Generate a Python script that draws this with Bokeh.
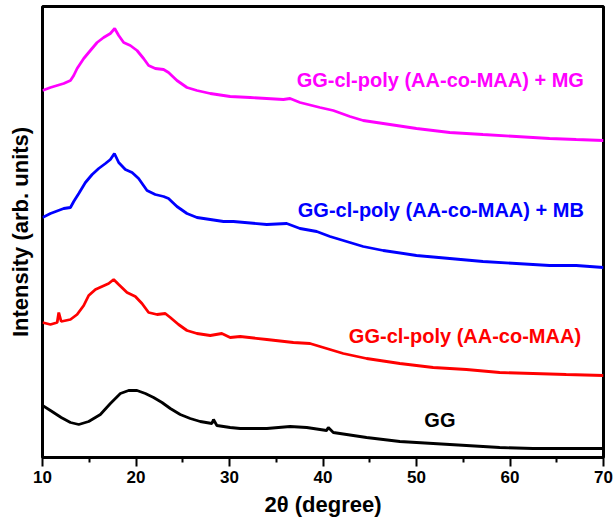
from bokeh.plotting import figure
from bokeh.models import Range1d, Label, FixedTicker
from bokeh.embed import file_html
from bokeh.resources import INLINE

# 2theta (degree) and intensity (arb. units, curves stacked with offsets as in the figure)
gg_x = [10.0, 10.85, 12.0, 12.99, 13.88, 14.94, 16.19, 17.26, 18.33, 19.21, 20.11, 21.0, 21.88,
        22.78, 23.67, 24.73, 25.80, 26.87, 28.12, 28.29, 28.65, 30.07, 31.14, 33.99, 36.48,
        38.26, 40.39, 40.57, 41.10, 44.66, 48.22, 51.78, 55.34, 58.90, 62.45, 66.01, 70.0]
gg_y = [52, 47, 40, 35, 33, 36, 43, 54, 64, 67, 67, 64, 60,
        55, 49, 43, 39, 36, 34, 38, 32, 30, 29, 29, 31,
        30, 27, 30, 25, 20, 16, 14, 12, 10, 9, 9, 9]

cp_x = [10.0, 10.85, 11.57, 11.74, 12.0, 12.99, 13.70, 14.41, 14.94, 15.66, 16.37, 17.08, 17.61,
        18.15, 19.04, 19.93, 20.64, 21.35, 22.25, 23.13, 23.67, 24.55, 25.45, 26.52, 27.94,
        29.18, 30.07, 31.14, 33.99, 36.83, 38.61, 40.39, 42.17, 44.66, 48.22, 51.78, 55.34,
        58.90, 62.45, 66.01, 70.0]
cp_y = [135, 133, 135, 145, 136, 138, 143, 152, 162, 168, 171, 174, 178,
        173, 165, 161, 154, 145, 143, 144, 140, 133, 127, 124, 122,
        124, 120, 121, 118, 115, 114, 109, 104, 99, 94, 90, 88,
        85, 84, 83, 82]

mb_x = [10.0, 10.85, 12.27, 12.99, 13.34, 13.88, 14.59, 15.31, 16.01, 16.73, 17.26, 17.69, 18.15,
        18.86, 19.58, 20.28, 21.18, 22.06, 22.95, 23.48, 24.38, 25.45, 26.52, 27.94, 29.36,
        30.42, 33.99, 36.12, 37.54, 39.33, 40.75, 42.88, 44.30, 46.44, 50.0, 53.56, 57.11,
        60.68, 64.23, 67.08, 70.0]
mb_y = [240, 244, 249, 250, 256, 264, 275, 283, 289, 294, 298, 304, 295,
        288, 285, 279, 267, 263, 261, 259, 251, 244, 240, 238, 236,
        236, 233, 234, 229, 226, 221, 215, 211, 207, 202, 199, 196,
        194, 192, 192, 190]

mg_x = [10.0, 10.85, 12.27, 12.99, 13.34, 13.70, 14.41, 15.12, 15.84, 16.54, 17.26, 17.72, 18.15,
        18.68, 19.39, 20.11, 20.81, 21.35, 22.06, 22.95, 23.48, 24.38, 25.45, 26.52, 27.94,
        29.36, 30.07, 32.21, 35.76, 36.48, 37.54, 39.68, 41.10, 42.88, 44.30, 46.44, 50.0,
        53.56, 57.11, 60.68, 64.23, 67.08, 70.0]
mg_y = [367, 370, 374, 377, 382, 389, 399, 407, 415, 420, 424, 429, 422,
        415, 412, 407, 399, 392, 389, 388, 385, 377, 370, 367, 364,
        362, 361, 360, 358, 359, 355, 350, 347, 341, 337, 334, 329,
        325, 323, 321, 319, 318, 317]

x_ticks = [10, 20, 30, 40, 50, 60, 70]
x_minor_ticks = [15, 25, 35, 45, 55, 65]

series_names = ["GG", "GG-cl-poly (AA-co-MAA)", "GG-cl-poly (AA-co-MAA) + MB",
                "GG-cl-poly (AA-co-MAA) + MG"]
series_colors = ["#000000", "#FF0000", "#0000FF", "#FF00FF"]

FONT = "Liberation Sans"

p = figure(frame_width=561, frame_height=451, output_backend="svg", toolbar_location=None,
           x_range=Range1d(10, 70), y_range=Range1d(0, 451),
           min_border_top=6, min_border_right=10, min_border_left=42, min_border_bottom=0)
p.background_fill_color = "white"
p.border_fill_color = "white"
p.outline_line_color = "black"
p.outline_line_width = 3
p.xgrid.visible = False
p.ygrid.visible = False

for xs, ys, c in zip([gg_x, cp_x, mb_x, mg_x], [gg_y, cp_y, mb_y, mg_y], series_colors):
    p.line(xs, ys, line_color=c, line_width=2.8)

# x axis
xa = p.xaxis[0]
xa.ticker = FixedTicker(ticks=x_ticks, minor_ticks=x_minor_ticks)
xa.axis_line_color = None
xa.major_tick_in = 0
xa.major_tick_out = 9
xa.minor_tick_in = 0
xa.minor_tick_out = 5
xa.major_tick_line_width = 2
xa.minor_tick_line_width = 2
xa.major_tick_line_color = "black"
xa.minor_tick_line_color = "black"
xa.major_label_text_font = FONT
xa.major_label_text_font_style = "bold"
xa.major_label_text_font_size = "17px"
xa.major_label_text_color = "black"
xa.major_label_standoff = 4
xa.axis_label = "2θ (degree)"
xa.axis_label_text_font = FONT
xa.axis_label_text_font_style = "bold"
xa.axis_label_text_font_size = "22px"
xa.axis_label_text_color = "black"
xa.axis_label_standoff = 6

# y axis: label only, no ticks
ya = p.yaxis[0]
ya.ticker = FixedTicker(ticks=[])
ya.axis_line_color = None
ya.major_tick_line_color = None
ya.minor_tick_line_color = None
ya.major_tick_out = 0
ya.major_tick_in = 0
ya.major_label_standoff = 0
ya.axis_label = "Intensity (arb. units)"
ya.axis_label_text_font = FONT
ya.axis_label_text_font_style = "bold"
ya.axis_label_text_font_size = "22px"
ya.axis_label_text_color = "black"
ya.axis_label_standoff = 10

label_pos = [(52.5, 37.5, "center"), (67.6, 121.5, "right"), (67.9, 247.5, "right"),
             (67.9, 377.5, "right")]
for (lx, ly, al), name, c in zip(label_pos, series_names, series_colors):
    p.add_layout(Label(x=lx, y=ly, text=name, text_align=al, text_baseline="middle",
                       text_font=FONT, text_font_style="bold", text_font_size="20px",
                       text_color=c))

open("out.html", "w").write(file_html(p, INLINE))
